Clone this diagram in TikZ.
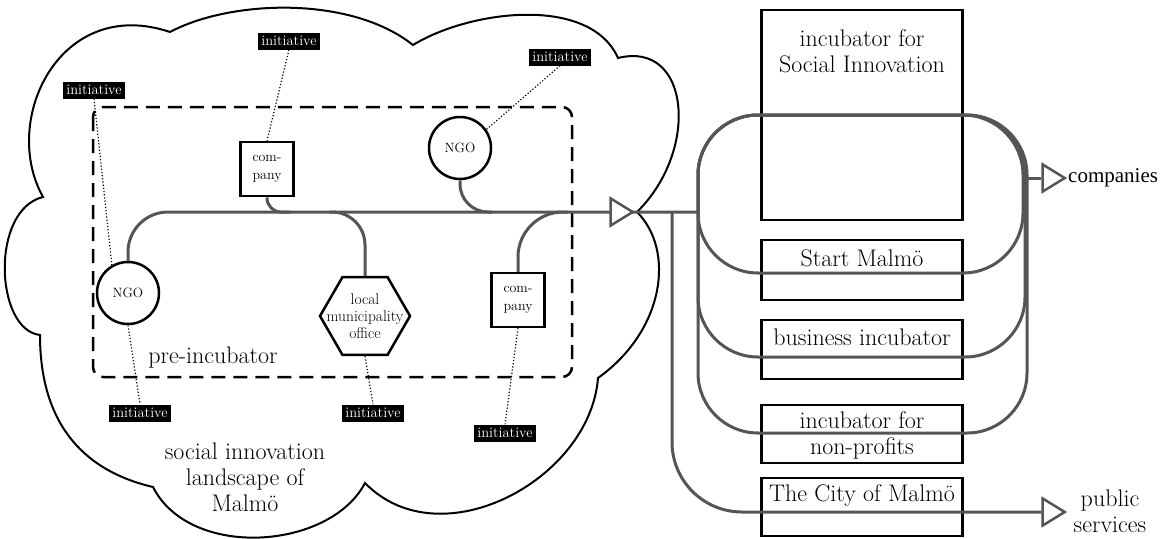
\documentclass[tikz,border=0pt]{standalone}
\usepackage{fontspec}
\newfontfamily\timesfont{Liberation Serif}
\usetikzlibrary{shapes.geometric,calc}
\definecolor{conngray}{RGB}{85,85,85}
\begin{document}
\begin{tikzpicture}[x=1pt, y=-1pt,
  conn/.style={draw=conngray, line width=3pt},
  actor/.style={draw=black, line width=2.5pt, fill=white, inner sep=0pt},
  ngo/.style={actor, circle, minimum size=62pt, font=\fontsize{13.5}{15}\selectfont},
  firm/.style={actor, rectangle, minimum width=53pt, minimum height=54pt, align=center, font=\fontsize{14}{18}\selectfont},
  initbox/.style={fill=black, text=white, inner sep=0pt, minimum width=62pt, minimum height=17pt, font=\fontsize{14.5}{14.5}\selectfont},
  tie/.style={draw=black, line width=1.2pt, dotted},
  incbox/.style={draw=black, line width=2.5pt, minimum width=201pt, inner sep=0pt},
  big/.style={font=\fontsize{24}{26}\selectfont, align=center, inner sep=0pt},
  tri/.style={isosceles triangle, isosceles triangle stretches, shape border rotate=0, minimum height=22pt, minimum width=27pt, draw=conngray, line width=2.5pt, fill=white, inner sep=0pt},
]
\useasboundingbox (0,0) rectangle (1169,538);

% cloud
\draw[line width=2pt] (43,197) .. controls (0,120) and (60,-5) .. (170,32)
  .. controls (230,0) and (350,-5) .. (413,45)
  .. controls (470,10) and (590,-5) .. (618,58)
  .. controls (690,40) and (700,150) .. (637,212)
  .. controls (675,250) and (665,330) .. (598,378)
  .. controls (590,480) and (440,560) .. (365,483)
  .. controls (330,550) and (190,560) .. (153,487)
  .. controls (80,470) and (40,420) .. (40,335)
  .. controls (-5,330) and (-10,210) .. (43,197) -- cycle;

% pre-incubator dashed frame
\draw[black, line width=2.5pt, dash pattern=on 14pt off 8pt, rounded corners=10pt] (93,107) rectangle (572,377);

% actors
\node[ngo] (ngo1) at (128,293) {NGO};
\node[ngo] (ngo2) at (460,148) {NGO};
\node[firm] (comp1) at (267,169) {com-\\pany};
\node[firm] (comp2) at (518,300) {com-\\pany};
\node[actor, regular polygon, regular polygon sides=6, minimum size=90pt,
  label={[font=\fontsize{15.5}{17}\selectfont, align=center]center:{local\\municipality\\office}}] (hex) at (365,316) {};

% initiatives
\node[initbox] (ini1) at (94,90) {initiative};
\node[initbox] (ini2) at (289,41) {initiative};
\node[initbox] (ini3) at (560,57) {initiative};
\node[initbox] (ini4) at (140,413) {initiative};
\node[initbox] (ini5) at (373,413) {initiative};
\node[initbox] (ini6) at (505,433) {initiative};

\draw[tie] (ini1.south) -- (ngo1.120);
\draw[tie] (ini2.south) -- (comp1.north);
\draw[tie] (ini3.south) -- (ngo2.35);
\draw[tie] (ngo1.south) -- (ini4.north);
\draw[tie] (hex.south) -- (ini5.north);
\draw[tie] (comp2.south) -- (ini6.north);

\node[big] (pre) at (213,358) {pre-incubator};
\node[big] (land) at (245,477) {social innovation\\landscape of\\Malm\"o};

% incubator boxes
\node[incbox, minimum height=210pt] (inc1) at (862,115) {};
\node[incbox, minimum height=60pt] (inc2) at (862,270) {};
\node[incbox, minimum height=59pt] (inc3) at (862,349.5) {};
\node[incbox, minimum height=58pt] (inc4) at (862,434) {};
\node[incbox, minimum height=58pt] (inc5) at (862,507) {};
\node[big] (t1) at (862,51) {incubator for\\Social Innovation};
\node[big] (t2) at (862,258) {Start Malm\"o};
\node[big] (t3) at (862,337) {business incubator};
\node[big] (t4) at (862,435) {incubator for\\non-profits};
\node[big] (t5) at (862,496) {The City of Malm\"o};

% connectors
\coordinate (hub) at (698,212);
\coordinate (cityJ) at (672,212);
\coordinate (loopR) at (1023,178);
\draw[conn, rounded corners=40pt] (ngo1.north) |- (hub);
\draw[conn, rounded corners=14pt] (comp1.south) |- (290,212);
\draw[conn, rounded corners=33pt] (hex.north) |- (330,212);
\draw[conn, rounded corners=28pt] (ngo2.south) |- (492,212);
\draw[conn, rounded corners=45pt] (comp2.north) |- (568,212);

\draw[conn, rounded corners=60pt] (698,115) rectangle (1023,273);
\draw[conn, rounded corners=60pt] (698,115) rectangle (1025,357);
\draw[conn, rounded corners=60pt] (698,115) rectangle (1027,433);

\node[tri, anchor=apex] (tri1) at (636,212) {};
\node[tri, anchor=apex] (tri2) at (1068,178) {};
\node[tri, anchor=apex] (tri3) at (1068,512) {};

\draw[conn] (loopR) -- (tri2.west);
\draw[conn, rounded corners=70pt] (cityJ) |- (tri3.west);

\node[big, font=\timesfont\fontsize{21}{24}\selectfont, anchor=west] (compout) at (tri2.apex) {companies};
\node[big] (pubout) at (1110,511) {public\\services};
\end{tikzpicture}
\end{document}
